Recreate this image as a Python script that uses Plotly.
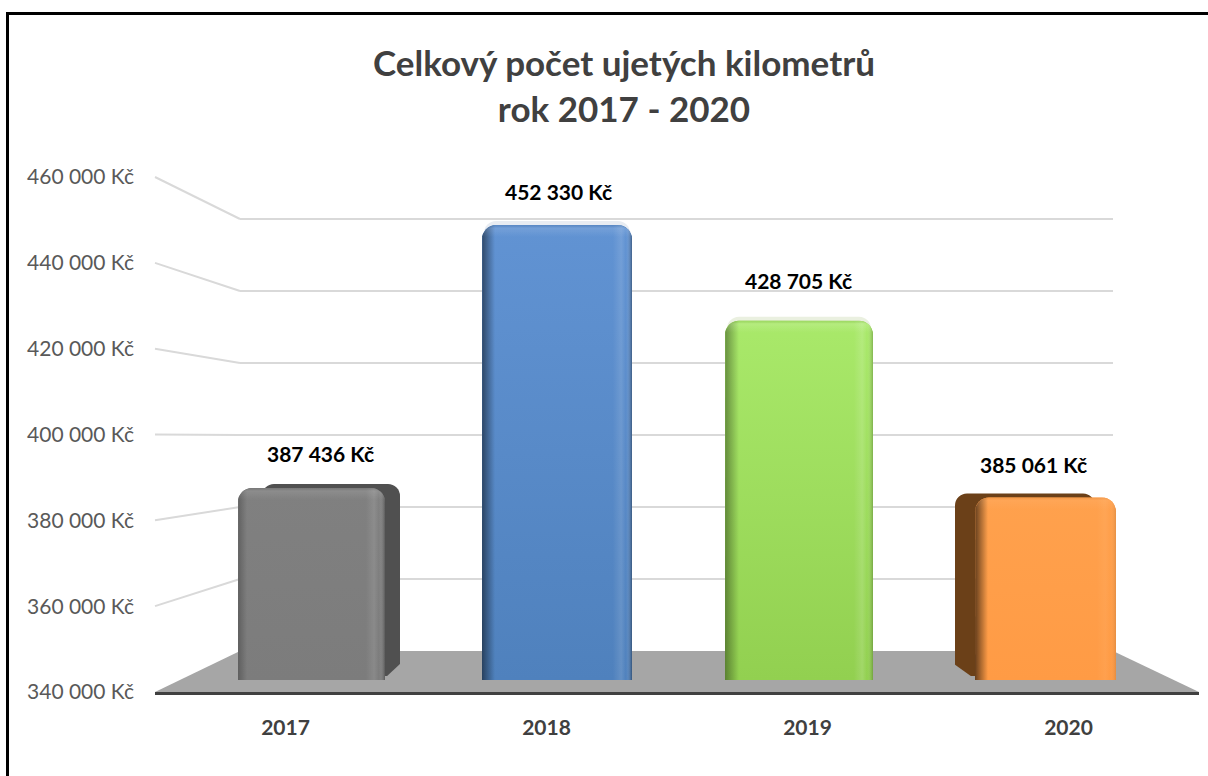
import numpy as np
import plotly.graph_objects as go

# ---------- data ----------
YEARS = ["2017", "2018", "2019", "2020"]
VALUES = [387436, 452330, 428705, 385061]
VALUE_LABELS = ["387 436 Kč", "452 330 Kč", "428 705 Kč", "385 061 Kč"]
TICK_VALUES = [340000, 360000, 380000, 400000, 420000, 440000, 460000]
TICK_LABELS = ["340 000 Kč", "360 000 Kč", "380 000 Kč", "400 000 Kč",
               "420 000 Kč", "440 000 Kč", "460 000 Kč"]
TITLE = "<b>Celkový počet ujetých kilometrů<br>rok 2017 - 2020</b>"

# ---------- page geometry (pixels) ----------
W, H = 1208, 776
FONT = "Lato"
FRONT_X = (155, 1199)
FRONT_Y = (692, 177)
BACK_X = (240, 1113)
BACK_Y = (651, 219)
BACK_HEADROOM = 1000      # axis room above the top gridline, so that it is kept
BAR_X = (188.5, 1168.5)
FACE_Y = (680, 194)
REAR_Y = (676, 190)
FACE_L = [238, 482, 725, 975]
FACE_R = [385, 632, 873, 1116]
REAR_L = [262, 484, 727, 955]
REAR_R = [400, 630, 871, 1095]
LABEL_X = [320, 558, 798, 1033]
LABEL_SHIFT = [34, 34, 40, 33]

# ---------- bar styling ----------
FACE_TOP = ["#808080", "#6193d3", "#a9e96a", "#ffa14d"]
FACE_BOTTOM = ["#7c7c7c", "#4f81bd", "#92d050", "#ff9b45"]
SIDE = ["#505050", "#e8ecf2", "#eaf0e0", "#6b4018"]
EDGE_L = [0.24, 0.50, 0.38, 0.60]
EDGE_R = [0.28, 0.35, 0.22, 0.10]
EDGE_LW = [9, 13, 14, 13]
EDGE_RW = [6, 6, 6, 6]
SHINE = [0.10, 0.12, 0.14, 0.05]
FLOOR = "#a6a6a6"
GRID = "#d9d9d9"


def fx(p):
    return p / W


def fy(p):
    return 1 - p / H


def dom_x(a):
    return [fx(a[0]), fx(a[1])]


def dom_y(a):
    return [fy(a[0]), fy(a[1])]


def front_py(v):
    return FRONT_Y[0] + (v - 340000) / 120000 * (FRONT_Y[1] - FRONT_Y[0])


def back_py(v):
    return BACK_Y[0] + (v - 340000) / 120000 * (BACK_Y[1] - BACK_Y[0])


UNIT_PX = (BAR_X[1] - BAR_X[0]) / 4


def to_unit(p):
    return (p - BAR_X[0]) / UNIT_PX - 0.5


VAL_PER_PX = 120000 / (FACE_Y[0] - FACE_Y[1])


def outline(i, r=14):
    """Top-rounded outline of a bar face on the bar axes, built from its value."""
    l, rr = FACE_L[i], FACE_R[i]
    a = np.linspace(np.pi, np.pi / 2, 9)
    xs = [l] + list(l + r + r * np.cos(a)) + list(rr - r - r * np.cos(a[::-1])) + [rr, l]
    dy = [0] + list(r - r * np.sin(a)) + list(r - r * np.sin(a[::-1])) + [0, 0]
    ys = [VALUES[i] - d * VAL_PER_PX for d in dy]
    ys[0] = ys[-1] = ys[-2] = 340000
    return [to_unit(x) for x in xs], ys


fig = go.Figure()

# main axes: tick labels, category labels
fig.add_trace(go.Scatter(x=YEARS, y=VALUES, mode="none", hoverinfo="skip",
                         showlegend=False, xaxis="x", yaxis="y"))
# rear wall with its gridlines
fig.add_trace(go.Scatter(x=YEARS, y=VALUES, mode="none", hoverinfo="skip",
                         showlegend=False, xaxis="x2", yaxis="y2"))

pos = list(range(len(YEARS)))
# rear silhouette of each 3D column
fig.add_trace(go.Bar(
    x=pos, y=[v - 340000 for v in VALUES], base=340000,
    width=[(r - l) / UNIT_PX for l, r in zip(REAR_L, REAR_R)],
    offset=[to_unit(l) - i for i, l in enumerate(REAR_L)],
    marker=dict(color=SIDE, line_width=0, cornerradius=12),
    showlegend=False, hoverinfo="skip", xaxis="x3", yaxis="y3"))
# front face
fig.add_trace(go.Bar(
    x=pos, y=[v - 340000 for v in VALUES], base=340000,
    width=[(r - l) / UNIT_PX for l, r in zip(FACE_L, FACE_R)],
    offset=[to_unit(l) - i for i, l in enumerate(FACE_L)],
    marker=dict(color=FACE_BOTTOM, line_width=0, cornerradius=14),
    customdata=VALUE_LABELS, hovertemplate="%{customdata}<extra></extra>",
    showlegend=False, xaxis="x3", yaxis="y4"))

for i in pos:
    px, py = outline(i)
    w = FACE_R[i] - FACE_L[i]
    h = (VALUES[i] - 340000) / VAL_PER_PX
    common = dict(x=px, y=py, mode="lines", line_width=0, fill="toself",
                  hoverinfo="skip", showlegend=False, xaxis="x3", yaxis="y4")
    # vertical colour run
    fig.add_trace(go.Scatter(fillgradient=dict(
        type="vertical", colorscale=[[0, FACE_BOTTOM[i]], [1, FACE_TOP[i]]]), **common))
    # side bevels
    lw, rw = EDGE_LW[i] / w, EDGE_RW[i] / w
    fig.add_trace(go.Scatter(fillgradient=dict(type="horizontal", colorscale=[
        [0, f"rgba(0,0,0,{EDGE_L[i]})"], [lw, "rgba(0,0,0,0)"],
        [1 - 3.2 * rw, "rgba(255,255,255,0)"], [1 - 1.8 * rw, f"rgba(255,255,255,{SHINE[i]})"],
        [1 - rw, "rgba(255,255,255,0)"], [1, f"rgba(0,0,0,{EDGE_R[i]})"]]), **common))
    # top bevel
    a, b = 3 / h, 12 / h
    fig.add_trace(go.Scatter(fillgradient=dict(type="vertical", colorscale=[
        [0, "rgba(255,255,255,0)"], [1 - b, "rgba(255,255,255,0)"],
        [1 - a, f"rgba(255,255,255,{SHINE[i]})"], [1, "rgba(0,0,0,0.06)"]]), **common))

# ---------- decoration in page coordinates ----------
shapes = [
    # outer frame
    dict(type="line", xref="paper", yref="paper", x0=fx(7.5), x1=fx(7.5), y0=0, y1=fy(13),
         line=dict(color="black", width=3), layer="above"),
    dict(type="line", xref="paper", yref="paper", x0=fx(6), x1=1, y0=fy(13.5), y1=fy(13.5),
         line=dict(color="black", width=3), layer="above"),
    # floor
    dict(type="path", xref="paper", yref="paper", layer="below", line_width=0,
         fillcolor=FLOOR,
         path=f"M {fx(FRONT_X[0])} {fy(692)} L {fx(FRONT_X[1])} {fy(692)} "
              f"L {fx(BACK_X[1])} {fy(651)} L {fx(BACK_X[0])} {fy(651)} Z"),
    # cut-away lower corners of the two visible column sides
    dict(type="path", xref="paper", yref="paper", layer="above", line_width=0, fillcolor=FLOOR,
         path=f"M {fx(385)} {fy(678)} L {fx(401)} {fy(663)} L {fx(401)} {fy(678)} Z"),
    dict(type="path", xref="paper", yref="paper", layer="above", line_width=0, fillcolor=FLOOR,
         path=f"M {fx(975)} {fy(679)} L {fx(954)} {fy(664)} L {fx(954)} {fy(679)} Z"),
]
# left wall lines joining the front ticks to the rear gridlines
for v in TICK_VALUES[1:]:
    shapes.append(dict(type="line", xref="paper", yref="paper", layer="below",
                       x0=fx(FRONT_X[0]), y0=fy(front_py(v)),
                       x1=fx(BACK_X[0]), y1=fy(back_py(v)),
                       line=dict(color=GRID, width=2)))

annotations = [
    dict(xref="paper", yref="y4", x=fx(LABEL_X[i]), y=VALUES[i], text=f"<b>{VALUE_LABELS[i]}</b>",
         showarrow=False, yanchor="middle", xanchor="center", yshift=LABEL_SHIFT[i],
         font=dict(family=FONT, size=21, color="black"))
    for i in pos
]

fig.update_layout(
    template="none",
    width=W, height=H, autosize=False,
    margin=dict(l=0, r=0, t=0, b=0, pad=0),
    paper_bgcolor="white", plot_bgcolor="rgba(0,0,0,0)",
    showlegend=False, barmode="overlay",
    font=dict(family=FONT),
    title=dict(text=TITLE, x=624 / W, xanchor="center", y=fy(76), yanchor="middle",
               font=dict(family=FONT, size=35, color="#404040")),
    shapes=shapes, annotations=annotations,
    xaxis=dict(domain=dom_x(FRONT_X), anchor="y", type="category", showgrid=False,
               range=[-0.5, 3.5], automargin=False,
               zeroline=False, ticks="", showline=True, linecolor="#404040", linewidth=3,
               ticklabelstandoff=15,
               tickfont=dict(family=FONT, size=21, color="#404040", weight="bold")),
    yaxis=dict(domain=dom_y(FRONT_Y), anchor="x", range=[340000, 460000], tickmode="array",
               automargin=False,
               tickvals=TICK_VALUES, ticktext=TICK_LABELS, showgrid=False, zeroline=False,
               showline=False, ticks="", ticklabelstandoff=20,
               tickfont=dict(family=FONT, size=21, color="#595959")),
    xaxis2=dict(domain=dom_x(BACK_X), anchor="y2", type="category", visible=False),
    yaxis2=dict(domain=[fy(BACK_Y[0]), fy(back_py(460000 + BACK_HEADROOM))], anchor="x2",
                range=[340000, 460000 + BACK_HEADROOM], tickmode="array",
                tickvals=TICK_VALUES[1:], showgrid=True, gridcolor=GRID, gridwidth=2,
                zeroline=False, showline=False, ticks="", showticklabels=False),
    xaxis3=dict(domain=dom_x(BAR_X), anchor="y3", range=[-0.5, 3.5], visible=False),
    yaxis3=dict(domain=dom_y(REAR_Y), anchor="x3", range=[340000, 460000], visible=False),
    yaxis4=dict(domain=dom_y(FACE_Y), anchor="x3", range=[340000, 460000], visible=False),
)

fig.write_html("out.html", config={"displayModeBar": False},
               post_script="document.body.style.margin='0';document.body.style.overflow='hidden';")
